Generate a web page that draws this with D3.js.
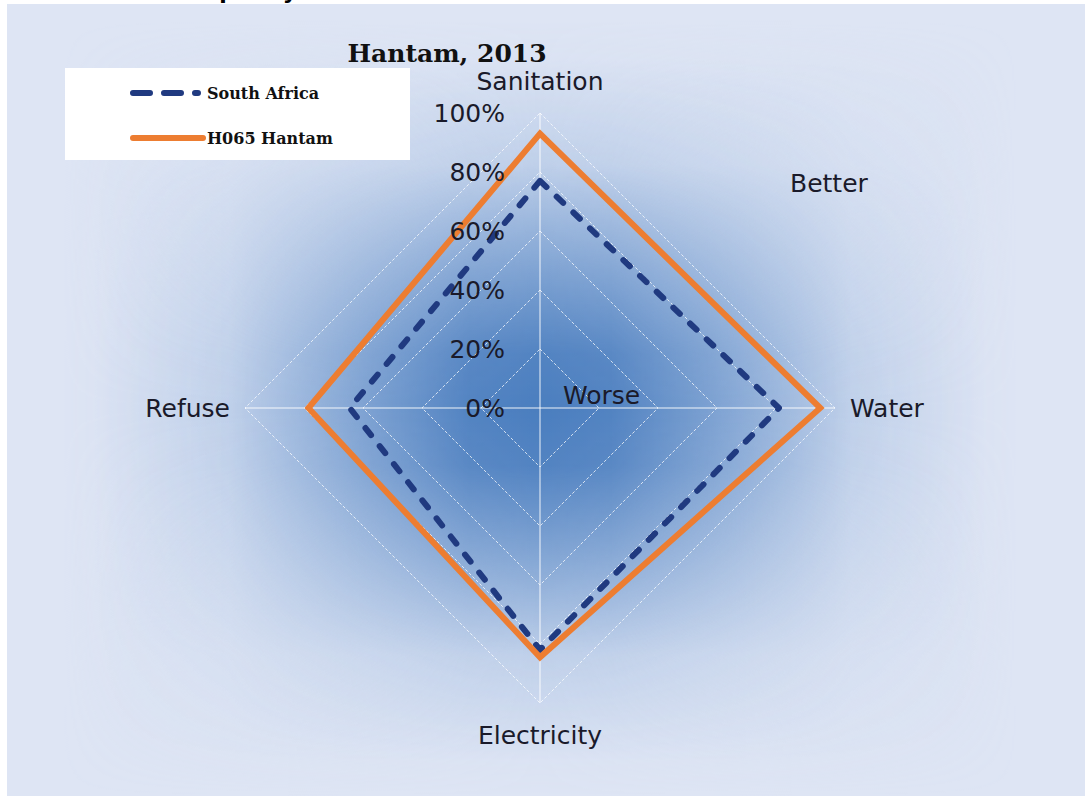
<!DOCTYPE html>
<html>
<head>
<meta charset="utf-8">
<script src="https://cdn.jsdelivr.net/npm/d3@7"></script>
<style>
  body { margin: 0; background: #ffffff; }
  svg { display: block; }
</style>
</head>
<body>
<script>
// categories (clockwise from top) and series values
var axes = ["Sanitation", "Water", "Electricity", "Refuse"];
var southAfrica = [0.77, 0.81, 0.82, 0.645];
var hantam = [0.93, 0.95, 0.845, 0.785];
var ticks = [0, 0.2, 0.4, 0.6, 0.8, 1];
var seriesNames = ["South Africa", "H065 Hantam"];

var width = 1085, height = 796;
var cx = 540, cy = 408, radius = 295;

var svg = d3.select("body").append("svg")
  .attr("width", width)
  .attr("height", height);

var defs = svg.append("defs");

// clipped title from the page above
svg.append("text")
  .attr("x", 211).attr("y", -1)
  .attr("font-family", "DejaVu Sans").attr("font-weight", "bold")
  .attr("font-size", 22).attr("fill", "#000")
  .text("quality");

// chart area background
svg.append("rect")
  .attr("x", 7).attr("y", 4)
  .attr("width", width - 7).attr("height", height - 4)
  .attr("fill", "#dee5f4");

// soft gradient masks (horizontal x vertical gives the star-like shading)
function ramp(id, x1, y1, x2, y2, stops) {
  var g = defs.append("linearGradient").attr("id", id)
    .attr("x1", x1).attr("y1", y1).attr("x2", x2).attr("y2", y2);
  stops.forEach(function(s) {
    g.append("stop").attr("offset", s[0]).attr("stop-color", d3.interpolateGreys(1 - s[1]));
  });
}
function makeMask(id, grad, x, y, w, h) {
  defs.append("mask").attr("id", id)
    .attr("maskUnits", "userSpaceOnUse")
    .attr("x", 0).attr("y", 0).attr("width", width).attr("height", height)
    .append("rect")
    .attr("x", x).attr("y", y).attr("width", w).attr("height", h)
    .attr("fill", "url(#" + grad + ")");
}
var soft = [[0, 0], [0.15, 0.12], [0.3, 0.5], [0.42, 0.88], [0.5, 1], [0.58, 0.88], [0.7, 0.5], [0.85, 0.12], [1, 0]];
var wide = [[0, 0], [0.2, 0.35], [0.5, 1], [0.8, 0.35], [1, 0]];
ramp("gh", 0, 0, 1, 0, soft);
ramp("gv", 0, 0, 0, 1, soft);
ramp("gh2", 0, 0, 1, 0, wide);
ramp("gv2", 0, 0, 0, 1, wide);
makeMask("mh", "gh", 95, 0, 890, height);
makeMask("mv", "gv", 0, 60, width, 700);
makeMask("mh2", "gh2", 60, 0, 960, height);
makeMask("mv2", "gv2", 0, 20, width, 776);

svg.append("g").attr("mask", "url(#mv2)")
  .append("rect").attr("mask", "url(#mh2)")
  .attr("x", 7).attr("y", 4).attr("width", width - 7).attr("height", height - 4)
  .attr("fill", "#c3d4ee");

svg.append("g").attr("mask", "url(#mv)")
  .append("rect").attr("mask", "url(#mh)")
  .attr("x", 7).attr("y", 4).attr("width", width - 7).attr("height", height - 4)
  .attr("fill", "#4a7dbe");

// scales
var r = d3.scaleLinear().domain([0, 1]).range([0, radius]);
var angle = d3.scalePoint().domain(axes).range([0, 2 * Math.PI * 3 / 4]);

var plot = svg.append("g").attr("transform", "translate(" + cx + "," + cy + ")");

// grid diamonds
var gridLine = d3.lineRadial()
  .angle(function(d) { return angle(d); })
  .curve(d3.curveLinearClosed);

plot.selectAll("path.grid")
  .data(ticks.slice(1))
  .enter().append("path")
  .attr("class", "grid")
  .attr("d", function(t) { return gridLine.radius(r(t))(axes); })
  .attr("fill", "none")
  .attr("stroke", "#ffffff")
  .attr("stroke-opacity", 0.75)
  .attr("stroke-width", 1)
  .attr("stroke-dasharray", "3,2");

// spokes
plot.selectAll("line.spoke")
  .data(axes)
  .enter().append("line")
  .attr("class", "spoke")
  .attr("x1", 0).attr("y1", 0)
  .attr("x2", function(d) { return r(1) * Math.sin(angle(d)); })
  .attr("y2", function(d) { return -r(1) * Math.cos(angle(d)); })
  .attr("stroke", "#ffffff")
  .attr("stroke-opacity", 0.9)
  .attr("stroke-width", 1);

// series
var seriesLine = d3.lineRadial()
  .angle(function(d, i) { return angle(axes[i]); })
  .radius(function(d) { return r(d); })
  .curve(d3.curveLinearClosed);

plot.append("path")
  .attr("d", seriesLine(southAfrica))
  .attr("fill", "none")
  .attr("stroke", "#203a80")
  .attr("stroke-width", 6)
  .attr("stroke-linecap", "round")
  .attr("stroke-linejoin", "round")
  .attr("stroke-dasharray", "9,14");

plot.append("path")
  .attr("d", seriesLine(hantam))
  .attr("fill", "none")
  .attr("stroke", "#ed7d31")
  .attr("stroke-width", 6)
  .attr("stroke-linejoin", "miter");

// tick labels
var fmt = d3.format(".0%");
plot.selectAll("text.tick")
  .data(ticks)
  .enter().append("text")
  .attr("class", "tick")
  .attr("x", -35)
  .attr("y", function(d) { return -r(d); })
  .attr("dy", "0.36em")
  .attr("text-anchor", "end")
  .attr("font-family", "DejaVu Sans")
  .attr("font-size", 25)
  .attr("fill", "#1a1a2a")
  .text(fmt);

// axis labels
var labelPos = {
  "Sanitation": { x: 0, y: -327, anchor: "middle" },
  "Water": { x: 310, y: 0, anchor: "start" },
  "Electricity": { x: 0, y: 327, anchor: "middle" },
  "Refuse": { x: -310, y: 0, anchor: "end" }
};
plot.selectAll("text.axis")
  .data(axes)
  .enter().append("text")
  .attr("class", "axis")
  .attr("x", function(d) { return labelPos[d].x; })
  .attr("y", function(d) { return labelPos[d].y; })
  .attr("dy", "0.36em")
  .attr("text-anchor", function(d) { return labelPos[d].anchor; })
  .attr("font-family", "DejaVu Sans")
  .attr("font-size", 25)
  .attr("fill", "#1a1a2a")
  .text(function(d) { return d; });

// better / worse notes
plot.append("text")
  .attr("x", 250).attr("y", -225).attr("dy", "0.36em")
  .attr("font-family", "DejaVu Sans").attr("font-size", 25).attr("fill", "#1a1a2a")
  .text("Better");
plot.append("text")
  .attr("x", 23).attr("y", -13).attr("dy", "0.36em")
  .attr("font-family", "DejaVu Sans").attr("font-size", 25).attr("fill", "#1a1a2a")
  .text("Worse");

// title
svg.append("text")
  .attr("x", 447).attr("y", 62)
  .attr("text-anchor", "middle")
  .attr("font-family", "DejaVu Serif").attr("font-weight", "bold")
  .attr("font-size", 25).attr("fill", "#111")
  .text("Hantam, 2013");

// legend
var legend = svg.append("g");
legend.append("rect")
  .attr("x", 65).attr("y", 68).attr("width", 345).attr("height", 92)
  .attr("fill", "#ffffff");

var legendRows = legend.selectAll("g.row")
  .data(seriesNames)
  .enter().append("g")
  .attr("class", "row")
  .attr("transform", function(d, i) { return "translate(0," + (93 + i * 45) + ")"; });

legendRows.append("line")
  .attr("x1", 133).attr("x2", function(d, i) { return i === 0 ? 198 : 203; })
  .attr("stroke", function(d, i) { return i === 0 ? "#203a80" : "#ed7d31"; })
  .attr("stroke-width", 6)
  .attr("stroke-linecap", "round")
  .attr("stroke-dasharray", function(d, i) { return i === 0 ? "17,14" : null; });

legendRows.append("text")
  .attr("x", 207).attr("dy", "0.36em")
  .attr("font-family", "DejaVu Serif").attr("font-weight", "bold")
  .attr("font-size", 16).attr("fill", "#111")
  .text(function(d) { return d; });
</script>
</body>
</html>
